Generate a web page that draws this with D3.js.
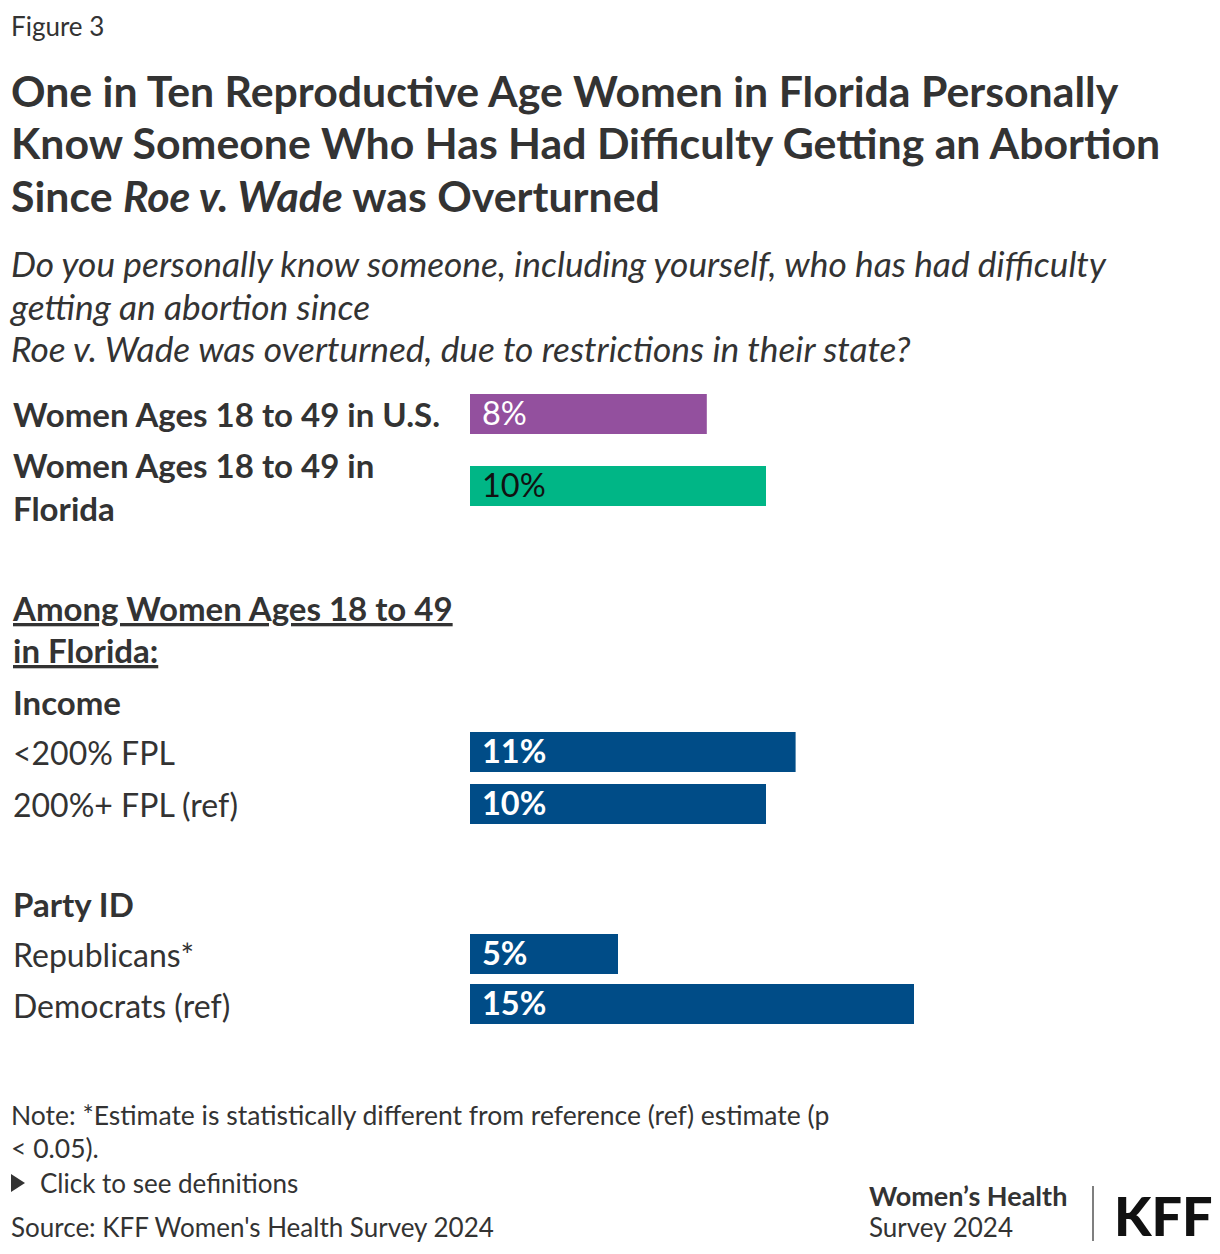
<!DOCTYPE html>
<html><head><meta charset="utf-8">
<script src="https://cdn.jsdelivr.net/npm/d3@7"></script>
<style>
html,body{margin:0;padding:0;background:#fff;}
svg text{font-family:Lato,"Noto Sans",sans-serif;fill:#333;}
</style></head>
<body><svg id="c" width="1220" height="1254"></svg>
<script>
const titleLines = [
  [{t:"One in Ten Reproductive Age Women in Florida Personally"}],
  [{t:"Know Someone Who Has Had Difficulty Getting an Abortion"}],
  [{t:"Since "},{t:"Roe v. Wade",i:true},{t:" was Overturned"}]
];
const subtitleLines = [
  "Do you personally know someone, including yourself, who has had difficulty",
  "getting an abortion since",
  "Roe v. Wade was overturned, due to restrictions in their state?"
];
const categories = ["Women Ages 18 to 49 in U.S.", "Women Ages 18 to 49 in Florida", "<200% FPL", "200%+ FPL (ref)", "Republicans*", "Democrats (ref)"];
const values = [8, 10, 11, 10, 5, 15];
const groups = ["total", "total", "Income", "Income", "Party ID", "Party ID"];
const valueLabels = ["8%", "10%", "11%", "10%", "5%", "15%"];
const sectionHeader = ["Among Women Ages 18 to 49", "in Florida:"];
const noteLines = ["Note: *Estimate is statistically different from reference (ref) estimate (p", "< 0.05)."];
const sourceText = "Source: KFF Women's Health Survey 2024";

const svg = d3.select("#c");
svg.append("text").attr("x",11).attr("y",36).style("font-size","26px").text("Figure 3");

const tl = [107,159,212];
titleLines.forEach((ln,i)=>{
  const t = svg.append("text").attr("x",11).attr("y",tl[i]).style("font-size","42.8px").style("font-weight","700");
  ln.forEach(s=>t.append("tspan").style("font-style",s.i?"italic":"normal").text(s.t));
});
const sl = [277,320,362];
subtitleLines.forEach((s,i)=>svg.append("text").attr("x",11).attr("y",sl[i]).style("font-size","35.3px").style("font-style","italic").style("font-weight","400").text(s));

// bar scale
const x = d3.scaleLinear().domain([0,15]).range([470,914]);
const rowTop = d3.scaleOrdinal().domain(categories).range([394,466,732,784,934,984]);
const barH = 40;
const colorOf = (d,i)=> i===0 ? "#93509e" : i===1 ? "#00b686" : "#004c87";
const textColor = (d,i)=> i===1 ? "#111" : "#fff";

const rows = categories.map((c,i)=>({c,v:values[i],g:groups[i],l:valueLabels[i],i}));
svg.selectAll("rect.bar").data(rows).join("rect").attr("class","bar")
  .attr("x",x(0)).attr("y",d=>rowTop(d.c)).attr("width",d=>x(d.v)-x(0)).attr("height",barH)
  .attr("fill",d=>colorOf(d,d.i));
svg.selectAll("text.val").data(rows).join("text").attr("class","val")
  .attr("x",x(0)+12).attr("y",d=>rowTop(d.c)+barH/2+11)
  .style("font-size","32.5px").style("font-weight",d=>d.i<2?"400":"700")
  .style("fill",d=>textColor(d,d.i)).text(d=>d.l);

// category labels
const lab = (txt,y,w,extra)=>{const t=svg.append("text").attr("x",13).attr("y",y).style("font-size",w==="400"?"32px":"33px").style("font-weight",w).text(txt); if(extra) extra(t); return t;};
lab(categories[0],427,"700");
const fl = svg.append("text").attr("x",13).attr("y",478).style("font-size","33px").style("font-weight","700");
fl.append("tspan").attr("x",13).text("Women Ages 18 to 49 in");
fl.append("tspan").attr("x",13).attr("y",521).text("Florida");
sectionHeader.forEach((s,i)=>lab(s,[621,663][i],"700",t=>t.style("text-decoration","underline")));
lab("Income",715,"700");
lab(categories[2],765,"400");
lab(categories[3],817,"400");
lab("Party ID",917,"700");
lab(categories[4],967,"400");
lab(categories[5],1018,"400");

// notes
noteLines.forEach((s,i)=>svg.append("text").attr("x",11).attr("y",[1125,1158][i]).style("font-size","26.5px").text(s));
svg.append("path").attr("d","M11,1174 L25,1183 L11,1192 Z").attr("fill","#333");
svg.append("text").attr("x",40).attr("y",1193).style("font-size","26px").text("Click to see definitions");
svg.append("text").attr("x",11).attr("y",1237).style("font-size","26px").text(sourceText);

// logo
svg.append("text").attr("x",869).attr("y",1206).style("font-size","27px").style("font-weight","700").text("Women\u2019s Health");
svg.append("text").attr("x",869).attr("y",1237).style("font-size","26px").text("Survey 2024");
svg.append("line").attr("x1",1093).attr("x2",1093).attr("y1",1186).attr("y2",1241).attr("stroke","#555").attr("stroke-width",1.5);
svg.append("text").attr("x",1114).attr("y",1236).style("font-size","54px").style("font-weight","900").style("fill","#111").text("KFF");
</script></body></html>
